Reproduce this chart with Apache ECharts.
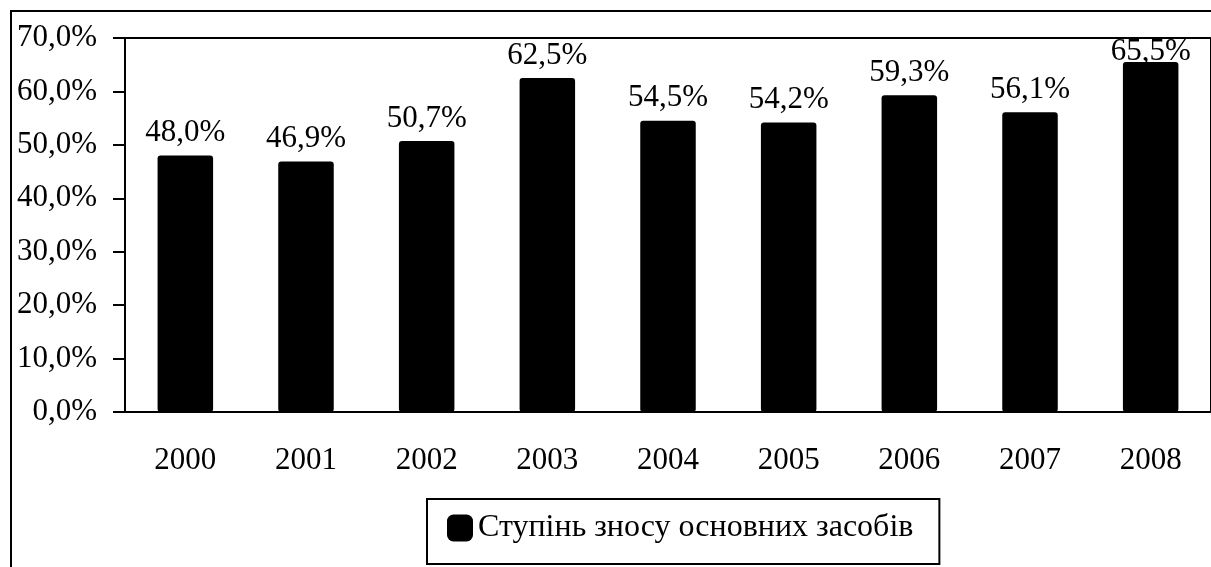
<!DOCTYPE html>
<html>
<head>
<meta charset="utf-8">
<script src="https://cdn.jsdelivr.net/npm/echarts@6/dist/echarts.min.js"></script>
<style>
html,body{margin:0;padding:0;background:#fff;}
#main{width:1211px;height:567px;}
</style>
</head>
<body>
<div id="main"></div>
<script>
// дані діаграми
var years = ['2000','2001','2002','2003','2004','2005','2006','2007','2008'];
var wearValues = [48.0, 46.9, 50.7, 62.5, 54.5, 54.2, 59.3, 56.1, 65.5];
var seriesName = 'Ступінь зносу основних засобів';
var yTicks = [0, 10, 20, 30, 40, 50, 60, 70];

var font = 'Liberation Serif, Times New Roman, serif';
function fmt(v){ return v.toFixed(1).replace('.', ',') + '%'; }

var myChart = echarts.init(document.getElementById('main'));

var barData = wearValues.map(function(v, i){
    var item = {value: v};
    // остання мітка впирається у верхню межу, тому опущена
    if (i == wearValues.length - 1) item.label = {distance: -5};
    return item;
});

var option = {
    animation: false,
    backgroundColor: '#fff',
    graphic: [{
        type: 'rect',
        z: -1,
        shape: {x: 11, y: 11, width: 1400, height: 800},
        style: {fill: 'none', stroke: '#000', lineWidth: 2}
    }],
    grid: {
        left: 125, top: 38, right: -12, bottom: 155,
        show: true, borderColor: '#000', borderWidth: 2
    },
    legend: {
        data: [seriesName],
        left: 427, top: 499,
        padding: [13, 26, 20, 20],
        borderColor: '#000', borderWidth: 2,
        itemWidth: 26, itemHeight: 27,
        icon: 'roundRect',
        textStyle: {fontFamily: font, fontSize: 32, color: '#000'}
    },
    xAxis: {
        type: 'category',
        data: years,
        axisLine: {lineStyle: {color: '#000', width: 2}},
        axisTick: {length: 10, lineStyle: {color: '#000', width: 2}},
        axisLabel: {margin: 33, fontFamily: font, fontSize: 31, color: '#000'}
    },
    yAxis: {
        type: 'value',
        min: yTicks[0], max: yTicks[yTicks.length - 1], interval: 10,
        axisLine: {show: true, lineStyle: {color: '#000', width: 2}},
        axisTick: {show: true, length: 12, lineStyle: {color: '#000', width: 2}},
        splitLine: {show: false},
        axisLabel: {margin: 28, fontFamily: font, fontSize: 31, color: '#000',
            formatter: function(v){ return fmt(v); }}
    },
    series: [{
        name: seriesName,
        type: 'bar',
        data: barData,
        barWidth: '46%',
        itemStyle: {color: '#000', borderRadius: 3},
        label: {
            show: true, position: 'top', distance: 7,
            fontFamily: font, fontSize: 31, color: '#000',
            formatter: function(p){ return fmt(p.value); }
        }
    }]
};

myChart.setOption(option);
</script>
</body>
</html>
